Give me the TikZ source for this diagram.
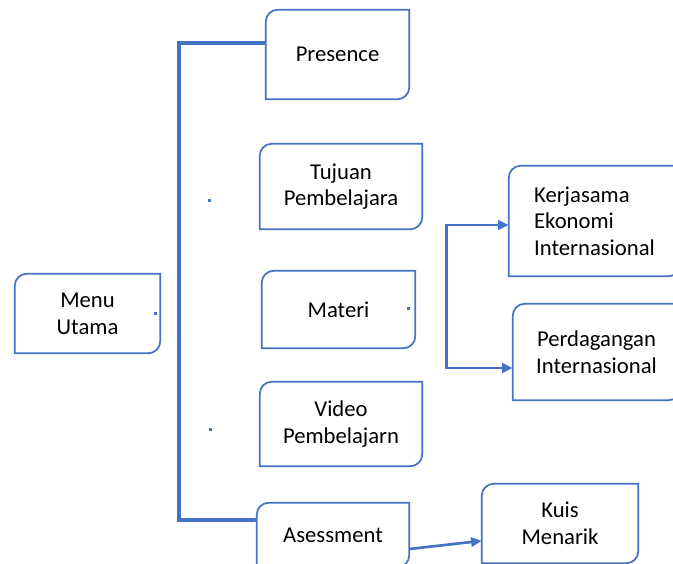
\documentclass[tikz,border=0pt]{standalone}
\usepackage{fontspec}
\setmainfont{Carlito}
\usetikzlibrary{arrows.meta}
\definecolor{mblue}{HTML}{4472C4}

\begin{document}
\begin{tikzpicture}[x = 0.75pt, y = -0.75pt, > = {Triangle[length = 8pt, width = 7pt]},
  box/.style = {inner sep = 0pt, align = center, font = \fontsize{17}{20}\selectfont},
  boxline/.style = {draw = mblue, line width = 1.3pt},
  spine/.style = {draw = mblue, line width = 3pt},
  link/.style = {draw = mblue, line width = 2pt},
  speck/.style = {fill = mblue}]
\clip (0, 0) rectangle (673, 563);
\node[box, minimum width = 108.75pt, minimum height = 59.25pt] (menu) at (87.5, 313.5) {Menu\\Utama};
\node[box, minimum width = 107.25pt, minimum height = 66.75pt] (pres) at (337.5, 54.5) {Presence};
\node[box, minimum width = 121.5pt, minimum height = 63.75pt] (tuj) at (341, 186.5) {Tujuan\\Pembelajara};
\node[box, minimum width = 114.75pt, minimum height = 57.75pt] (mat) at (338.5, 309.5) {Materi};
\node[box, minimum width = 121.5pt, minimum height = 63pt] (vid) at (341, 424) {Video\\Pembelajarn};
\node[box, minimum width = 114pt, minimum height = 48pt] (ases) at (333, 535) {Asessment};
\node[box, minimum width = 117pt, minimum height = 59.25pt] (kuis) at (560, 523.5) {Kuis\\Menarik};
\node[box, align = left, minimum width = 128.25pt, minimum height = 82.5pt] (kerja) at (594.5, 221) {Kerjasama\\Ekonomi\\Internasional};
\node[box, minimum width = 125.25pt, minimum height = 72pt] (perd) at (596.5, 352) {Perdagangan\\Internasional};
\foreach \b in {menu, pres, tuj, mat, vid, ases, kuis, kerja, perd}
  \draw[boxline] ([yshift = 9pt]\b.south east) arc [start angle = 0, end angle = -90, radius = 9pt]
    -- (\b.south west) -- ([yshift = -9pt]\b.north west) arc [start angle = 180, end angle = 90, radius = 9pt]
    -- (\b.north east) -- cycle;
\draw[spine] ([yshift = 8.5pt]pres.west) -- ++(-87, 0) |- ([yshift = 11pt]ases.west);
\draw[link, <->] ([yshift = -3pt]kerja.west) -- ++(-62, 0) |- ([yshift = -12pt]perd.west);
\draw[link, ->] ([yshift = -10.5pt]ases.east) -- ([yshift = -13pt]kuis.west);
\fill[speck] ([xshift = -4.5pt, yshift = 1pt]menu.east) rectangle ++(3, 3);
\fill[speck] (207.5, 198.5) rectangle ++(3, 3);
\fill[speck] ([xshift = -6pt, yshift = 2pt]mat.east) rectangle ++(3, 3);
\fill[speck] (208.5, 427.5) rectangle ++(3, 3);
\end{tikzpicture}
\end{document}
